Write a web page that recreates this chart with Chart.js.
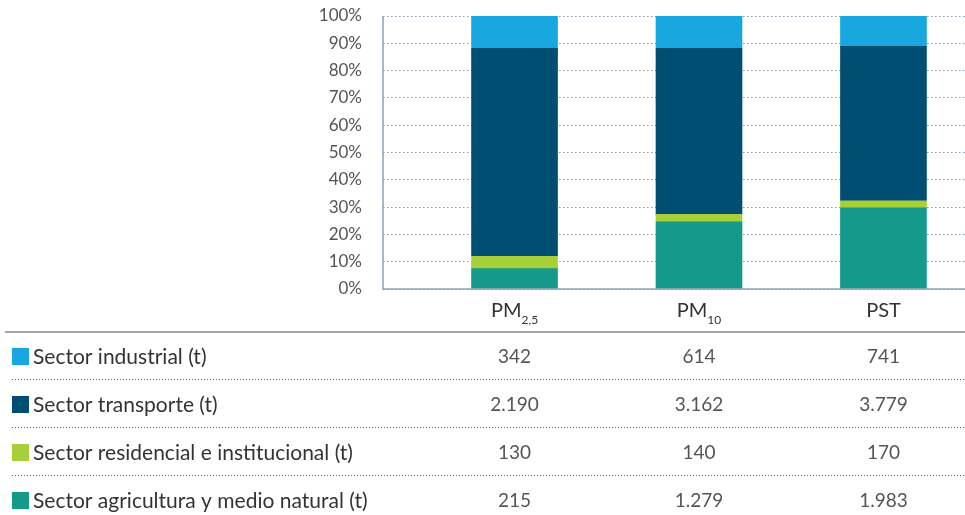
<!DOCTYPE html>
<html lang="es">
<head>
    <meta charset="UTF-8">
    <title>Emisiones de material particulado por sector</title>
    <script src="https://cdn.jsdelivr.net/npm/chart.js"></script>
    <style>
        body {
            margin: 0;
            background: #ffffff;
        }
        canvas {
            display: block;
        }
    </style>
</head>
<body>
    <canvas id="pmChart" width="965" height="515"></canvas>

<script>
    // columnas: contaminante + subíndice
    const contaminantes = ['PM', 'PM', 'PST'];
    const subindices = ['2,5', '10', ''];

    // filas de la tabla (de arriba hacia abajo)
    const sectores = [
        'Sector industrial (t)',
        'Sector transporte (t)',
        'Sector residencial e institucional (t)',
        'Sector agricultura y medio natural (t)'
    ];

    // emisiones en toneladas
    const industrial = [342, 614, 741];
    const transporte = [2190, 3162, 3779];
    const residencial = [130, 140, 170];
    const agricultura = [215, 1279, 1983];

    const colores = ['#19a7e0', '#004f72', '#a7cf3a', '#14998a'];
    const yTicks = [0, 10, 20, 30, 40, 50, 60, 70, 80, 90, 100];

    const fuente = 'Lato, "Open Sans", sans-serif';
    const filas = [industrial, transporte, residencial, agricultura];

    // total por columna para pasar a porcentaje
    let totales = contaminantes.map((c, i) => industrial[i] + transporte[i] + residencial[i] + agricultura[i]);

    function aPorcentaje(serie) {
        return serie.map((v, i) => ({ x: i, y: v / totales[i] * 100 }));
    }

    // 2190 -> "2.190"
    function formato(n) {
        return String(n).replace(/\B(?=(\d{3})+(?!\d))/g, '.');
    }

    // eje vertical continuo (las líneas de la grilla son punteadas)
    const ejePlugin = {
        id: 'ejeY',
        afterDraw(chart) {
            let a = chart.chartArea;
            let ctx = chart.ctx;
            ctx.save();
            ctx.strokeStyle = '#8da2b6';
            ctx.lineWidth = 1.5;
            ctx.beginPath();
            ctx.moveTo(a.left, a.top);
            ctx.lineTo(a.left, a.bottom);
            ctx.lineTo(a.right, a.bottom);
            ctx.stroke();
            ctx.restore();
        }
    };

    // dibuja cabecera y tabla de datos debajo del gráfico
    const tablaPlugin = {
        id: 'tabla',
        afterDraw(chart) {
            let ctx = chart.ctx;
            let xs = chart.scales.x;
            ctx.save();

            // cabecera con subíndices
            ctx.fillStyle = '#333333';
            ctx.textBaseline = 'alphabetic';
            ctx.textAlign = 'left';
            contaminantes.forEach((c, i) => {
                ctx.font = '20px ' + fuente;
                let w1 = ctx.measureText(c).width;
                ctx.font = '12px ' + fuente;
                let w2 = ctx.measureText(subindices[i]).width;
                let x0 = xs.getPixelForValue(i) - (w1 + w2) / 2;
                ctx.font = '20px ' + fuente;
                ctx.fillText(c, x0, 317);
                ctx.font = '12px ' + fuente;
                ctx.fillText(subindices[i], x0 + w1, 324);
            });

            // línea continua bajo la cabecera
            ctx.strokeStyle = '#8a8a8a';
            ctx.lineWidth = 1.5;
            ctx.beginPath();
            ctx.moveTo(5, 332);
            ctx.lineTo(965, 332);
            ctx.stroke();

            // filas
            let centros = [357, 405, 453, 501];
            ctx.textBaseline = 'middle';
            sectores.forEach((s, r) => {
                let y = centros[r];
                ctx.fillStyle = colores[r];
                ctx.fillRect(12, y - 9, 17, 17);
                ctx.fillStyle = '#333333';
                ctx.textAlign = 'left';
                ctx.font = '21px ' + fuente;
                ctx.fillText(s, 33, y);
                ctx.fillStyle = '#555555';
                ctx.textAlign = 'center';
                ctx.font = '19px ' + fuente;
                filas[r].forEach((v, i) => {
                    ctx.fillText(formato(v), xs.getPixelForValue(i), y);
                });
                if (r < sectores.length - 1) {
                    ctx.strokeStyle = '#666666';
                    ctx.lineWidth = 1;
                    ctx.setLineDash([1, 2]);
                    ctx.beginPath();
                    ctx.moveTo(12, y + 22.5);
                    ctx.lineTo(965, y + 22.5);
                    ctx.stroke();
                    ctx.setLineDash([]);
                }
            });
            ctx.restore();
        }
    };

    let ctx1 = document.getElementById('pmChart').getContext('2d');

    new Chart(ctx1, {
        type: 'bar',
        data: {
            datasets: [
                { label: sectores[3], data: aPorcentaje(agricultura), backgroundColor: colores[3] },
                { label: sectores[2], data: aPorcentaje(residencial), backgroundColor: colores[2] },
                { label: sectores[1], data: aPorcentaje(transporte), backgroundColor: colores[1] },
                { label: sectores[0], data: aPorcentaje(industrial), backgroundColor: colores[0] }
            ]
        },
        options: {
            responsive: false,
            animation: false,
            barThickness: 86,
            layout: { padding: { top: 16, right: 0, bottom: 226, left: 0 } },
            plugins: {
                legend: { display: false },
                tooltip: { enabled: false }
            },
            scales: {
                x: {
                    type: 'linear',
                    stacked: true,
                    offset: false,
                    min: -0.713,
                    max: 2.442,
                    grid: { display: false, drawTicks: false },
                    ticks: { display: false },
                    border: { display: false }
                },
                y: {
                    stacked: true,
                    min: 0,
                    max: 100,
                    afterFit(scale) {
                        scale.width = 383;
                        // sin esto el padding de las etiquetas se suma arriba
                        scale.paddingTop = 0;
                        scale.paddingBottom = 0;
                    },
                    afterBuildTicks(scale) { scale.ticks = yTicks.map(v => ({ value: v })); },
                    ticks: {
                        padding: 21,
                        color: '#555555',
                        font: { family: fuente, size: 17 },
                        callback: v => v + '%'
                    },
                    grid: {
                        drawTicks: false,
                        color: '#7d9bb8',
                        lineWidth: 1
                    },
                    border: { display: false, dash: [1.5, 2.5] }
                }
            }
        },
        plugins: [ejePlugin, tablaPlugin]
    });
</script>
</body>
</html>
